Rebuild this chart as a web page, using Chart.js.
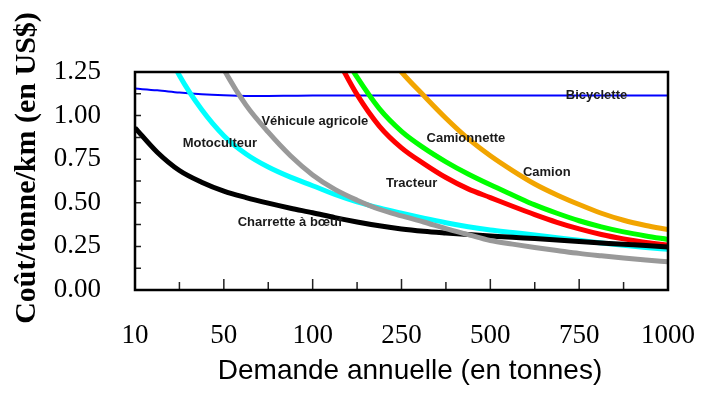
<!DOCTYPE html>
<html lang="fr">
<head>
<meta charset="UTF-8">
<title>Coût du transport selon la demande annuelle</title>
<style>
  body { margin: 0; background: #fff; }
  #wrap { width: 701px; height: 410px; }
</style>
<script src="https://cdn.jsdelivr.net/npm/chart.js"></script>
</head>
<body>
<div id="wrap"><canvas id="chart" width="701" height="410"></canvas></div>
<script>
// positions along the (evenly spaced) demand axis, 0 = 10 t ... 12 = 1000 t
const xPositions = [0, 0.5, 1, 1.5, 2, 2.5, 3, 3.5, 4, 4.5, 5, 5.5, 6,
                    6.5, 7, 7.5, 8, 8.5, 9, 9.5, 10, 10.5, 11, 11.5, 12];
const xTickLabels = ['10', '50', '100', '250', '500', '750', '1000'];

// cost per tonne-km (US$), null = not drawn
const charrette   = [0.93, 0.79, 0.685, 0.618, 0.567, 0.53, 0.498, 0.469, 0.443, 0.415, 0.39, 0.368, 0.35,
                     0.337, 0.327, 0.318, 0.31, 0.302, 0.295, 0.287, 0.278, 0.27, 0.262, 0.255, 0.246];
const motoculteur = [null, 1.49, 1.23, 1.035, 0.885, 0.78, 0.705, 0.647, 0.598, 0.548, 0.505, 0.47, 0.44,
                     0.412, 0.386, 0.363, 0.344, 0.33, 0.316, 0.30, 0.285, 0.27, 0.256, 0.244, 0.233];
const vehicule    = [null, null, null, 1.52, 1.265, 1.06, 0.905, 0.77, 0.66, 0.577, 0.515, 0.463, 0.425,
                     0.39, 0.352, 0.318, 0.284, 0.263, 0.244, 0.227, 0.21, 0.196, 0.183, 0.172, 0.162];
const tracteur    = [null, null, null, null, null, null, null, null, null, 1.35, 1.12, 0.94, 0.815,
                     0.725, 0.645, 0.58, 0.53, 0.48, 0.432, 0.388, 0.35, 0.318, 0.293, 0.273, 0.258];
const camionnette = [null, null, null, null, null, null, null, null, null, 1.43, 1.22, 1.04, 0.91,
                     0.815, 0.735, 0.665, 0.603, 0.545, 0.488, 0.44, 0.397, 0.362, 0.333, 0.31, 0.29];
const camion      = [null, null, null, null, null, null, null, null, null, null, null, 1.41, 1.25,
                     1.115, 0.985, 0.868, 0.77, 0.685, 0.608, 0.545, 0.49, 0.44, 0.40, 0.37, 0.346];
const bicyclette  = [1.155, 1.145, 1.132, 1.122, 1.116, 1.113, 1.113, 1.114, 1.115, 1.115, 1.115, 1.115, 1.115,
                     1.115, 1.115, 1.115, 1.115, 1.115, 1.115, 1.115, 1.115, 1.115, 1.115, 1.115, 1.115];

// curve labels, placed in data units
const labelTexts = ['Bicyclette', 'Camion', 'Camionnette', 'Tracteur', 'Véhicule agricole', 'Motoculteur', 'Charrette à bœuf'];
const labelX = [10.39, 9.27, 7.45, 6.23, 4.05, 1.91, 3.49];
const labelY = [1.114, 0.675, 0.87, 0.612, 0.965, 0.841, 0.386];

function pts(vals) {
    return xPositions.map((x, i) => ({ x: x, y: vals[i] }));
}

function line(label, vals, color, width) {
    return {
        label: label,
        data: pts(vals),
        borderColor: color,
        borderWidth: width,
        pointRadius: 0,
        fill: false,
        cubicInterpolationMode: 'monotone',
        spanGaps: false
    };
}

// frame, inner tick marks, curve labels and axis titles
const overlay = {
    id: 'overlay',
    afterDatasetsDraw(chart) {
        const { ctx, chartArea: a, scales: { x, y } } = chart;
        ctx.save();

        ctx.font = 'bold 13px "Liberation Sans", Arial, sans-serif';
        ctx.fillStyle = '#1a1a1a';
        ctx.textAlign = 'center';
        ctx.textBaseline = 'middle';
        labelTexts.forEach((t, i) => {
            ctx.fillText(t, x.getPixelForValue(labelX[i]), y.getPixelForValue(labelY[i]));
        });

        ctx.strokeStyle = '#222';
        ctx.lineWidth = 1.5;
        ctx.beginPath();
        for (let v = 1; v < 12; v++) {
            const px = x.getPixelForValue(v);
            const len = v % 2 === 0 ? 11 : 8;
            ctx.moveTo(px, a.bottom);
            ctx.lineTo(px, a.bottom - len);
        }
        for (let k = 1; k < 10; k++) {
            const py = y.getPixelForValue(k * 0.125);
            ctx.moveTo(a.left, py);
            ctx.lineTo(a.left + 6, py);
        }
        ctx.stroke();

        ctx.lineWidth = 2.5;
        ctx.strokeStyle = '#000';
        ctx.strokeRect(a.left, a.top, a.right - a.left, a.bottom - a.top);

        ctx.fillStyle = '#000';
        ctx.font = '28px "Liberation Sans", Arial, sans-serif';
        ctx.fillText('Demande annuelle (en tonnes)', 410, 371);

        ctx.translate(27, 168);
        ctx.rotate(-Math.PI / 2);
        ctx.font = 'bold 30px "Liberation Serif", "Times New Roman", serif';
        ctx.fillText('Coût/tonne/km (en US$)', 0, 0);
        ctx.restore();
    }
};

const tickFont = { family: '"Liberation Serif", "Times New Roman", serif', size: 27 };

new Chart(document.getElementById('chart'), {
    type: 'line',
    data: {
        datasets: [
            line('Véhicule agricole', vehicule, '#999999', 5),
            line('Charrette à bœuf', charrette, '#000000', 5),
            line('Motoculteur', motoculteur, '#00ffff', 5),
            line('Tracteur', tracteur, '#ff0000', 5),
            line('Camionnette', camionnette, '#00ff00', 5),
            line('Camion', camion, '#f2a500', 5),
            line('Bicyclette', bicyclette, '#0000ff', 2)
        ]
    },
    options: {
        responsive: false,
        animation: false,
        layout: { padding: { top: 72, right: 33, left: 0, bottom: 0 } },
        plugins: {
            legend: { display: false },
            tooltip: { enabled: false }
        },
        scales: {
            x: {
                type: 'linear',
                min: 0,
                max: 12,
                grid: { display: false },
                border: { display: false },
                ticks: {
                    stepSize: 1,
                    autoSkip: false,
                    maxRotation: 0,
                    padding: 22,
                    color: '#000',
                    font: tickFont,
                    callback: v => (v % 2 === 0 ? xTickLabels[v / 2] : '')
                },
                afterFit: s => {
                    s.height = 120;
                    s.paddingLeft = 0;
                    s.paddingRight = 0;
                }
            },
            y: {
                min: 0,
                max: 1.25,
                grid: { display: false },
                border: { display: false },
                ticks: {
                    stepSize: 0.25,
                    padding: 26,
                    color: '#000',
                    font: tickFont,
                    callback: v => v.toFixed(2)
                },
                afterFit: s => {
                    s.width = 135;
                    s.paddingTop = 0;
                    s.paddingBottom = 0;
                }
            }
        }
    },
    plugins: [overlay]
});
</script>
</body>
</html>
